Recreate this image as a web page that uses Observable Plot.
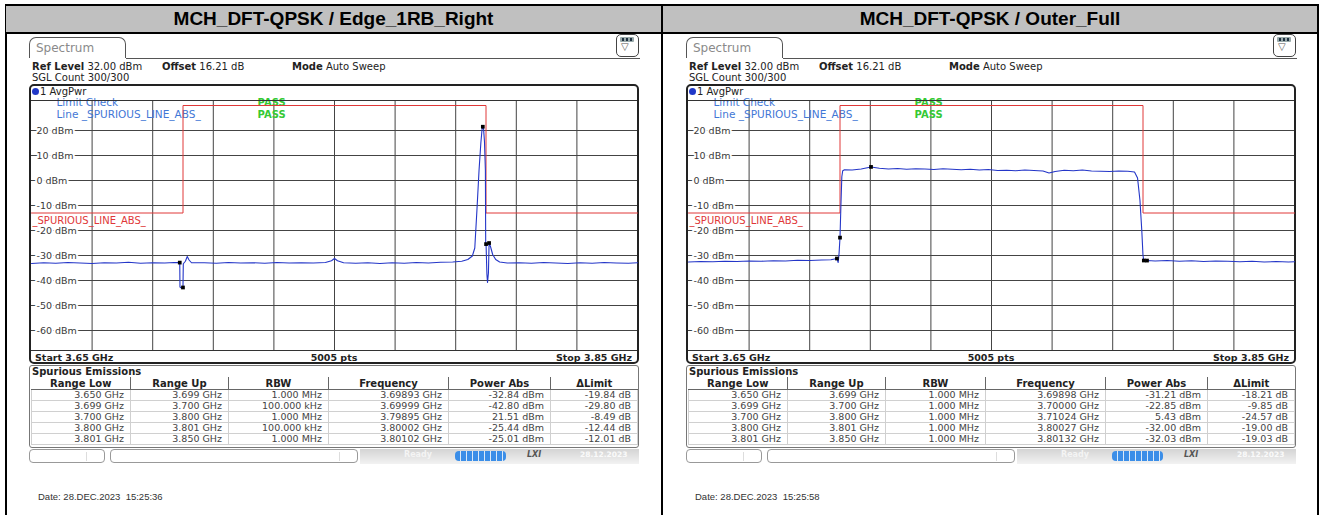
<!DOCTYPE html>
<html><head><meta charset="utf-8">
<script src="https://cdn.jsdelivr.net/npm/d3@7"></script>
<script src="https://cdn.jsdelivr.net/npm/@observablehq/plot@0.6"></script>
<style>
html,body{margin:0;padding:0;background:#fff;}
body{width:1322px;height:515px;overflow:hidden;position:relative;font-family:"DejaVu Sans",sans-serif;}
.abs{position:absolute;}
.outer{position:absolute;left:5px;top:4px;width:1310px;height:520px;border:2px solid #000;}
.divider{position:absolute;left:661px;top:4px;width:2px;height:520px;background:#000;}
.header{position:absolute;top:6px;height:26px;background:#c0c0c0;border-bottom:2px solid #000;
  font-family:"Liberation Sans",Arial,sans-serif;font-weight:bold;font-size:19px;color:#000;
  text-align:center;line-height:26px;}
.tab{position:absolute;top:37px;width:97px;height:21px;border:1px solid #555;border-bottom:none;
  border-radius:7px 7px 0 0;color:#8a8a8a;font-size:12px;line-height:21px;padding-left:6px;box-sizing:border-box;}
.tabline{position:absolute;top:58px;height:0;border-top:1px solid #555;}
.icon{position:absolute;top:34px;width:23px;height:23px;border:1.5px solid #444;border-radius:5px;background:#fff;box-sizing:border-box;}
.info{position:absolute;font-size:10px;color:#222;white-space:pre;}
.info b{font-weight:bold;}
.gbox{position:absolute;top:84px;width:610px;height:280px;border:2px solid #222;border-radius:5px;box-sizing:border-box;}
.avg{position:absolute;font-size:10px;color:#222;white-space:pre;line-height:12px;}
.dot{display:inline-block;width:7px;height:7px;border-radius:50%;background:#2038c8;vertical-align:0px;margin-right:1px;}
.srow{position:absolute;font-size:9.5px;font-weight:bold;color:#222;}
.tbox{position:absolute;top:365px;width:610px;height:83px;border:1.5px solid #777;border-radius:3px;box-sizing:border-box;background:#fff;}
table.sp{position:absolute;border-collapse:collapse;font-size:9.5px;color:#444;}
table.sp th{font-weight:bold;font-size:10px;color:#222;height:12px;padding:0;border-bottom:1px solid #666;border-left:1px solid #666;line-height:11px;}
table.sp th:first-child{border-left:none;}
table.sp td{height:10px;padding:0 6px 0 0;text-align:right;border:1px solid #d0d0d0;line-height:10px;}
.bar{position:absolute;top:449px;height:15px;}
.pill{position:absolute;top:449px;height:14px;border:1px solid #999;border-radius:4px;background:#fff;box-sizing:border-box;}
.date{position:absolute;top:491px;font-family:"Liberation Sans",Arial,sans-serif;font-size:9.5px;color:#333;white-space:pre;}
svg{overflow:visible;}
</style></head>
<body>
<div class="outer"></div>
<div class="divider"></div>
<div id="root"></div>
<script>
// ---------- data ----------
const panelTitles = ["MCH_DFT-QPSK / Edge_1RB_Right", "MCH_DFT-QPSK / Outer_Full"];
const refLevel = "32.00 dBm";
const offsetVal = "16.21 dB";
const modeVal = "Auto Sweep";
const sglCount = "300/300";
const startLabel = "Start 3.65 GHz";
const ptsLabel = "5005 pts";
const stopLabel = "Stop 3.85 GHz";
const dateLabels = ["Date: 28.DEC.2023  15:25:36", "Date: 28.DEC.2023  15:25:58"];

const freqDomain = [3.65, 3.85];
const levelDomain = [-68, 32];
const freqGrid = [3.67, 3.69, 3.71, 3.73, 3.75, 3.77, 3.79, 3.81, 3.83];
const levelTicks = [20, 10, 0, -10, -20, -30, -40, -50, -60];

const limitFreq = [3.65, 3.70, 3.70, 3.80, 3.80, 3.85];
const limitLevel = [-13, -13, 30, 30, -13, -13];
const limitName = "_SPURIOUS_LINE_ABS_";

const tableHeaders = ["Range Low", "Range Up", "RBW", "Frequency", "Power Abs", "\u0394Limit"];
const rangeLow = ["3.650 GHz", "3.699 GHz", "3.700 GHz", "3.800 GHz", "3.801 GHz"];
const rangeUp = ["3.699 GHz", "3.700 GHz", "3.800 GHz", "3.801 GHz", "3.850 GHz"];
const rbwLeft = ["1.000 MHz", "100.000 kHz", "1.000 MHz", "100.000 kHz", "1.000 MHz"];
const rbwRight = ["1.000 MHz", "1.000 MHz", "1.000 MHz", "1.000 MHz", "1.000 MHz"];
const peakFreqLeft = [3.69893, 3.69999, 3.79895, 3.80002, 3.80102];
const peakPowLeft = [-32.84, -42.80, 21.51, -25.44, -25.01];
const deltaLeft = [-19.84, -29.80, -8.49, -12.44, -12.01];
const peakFreqRight = [3.69898, 3.70000, 3.71024, 3.80027, 3.80132];
const peakPowRight = [-31.21, -22.85, 5.43, -32.00, -32.03];
const deltaRight = [-18.21, -9.85, -24.57, -19.00, -19.03];

const traceLeft = [
  [3.6500,-33.2],[3.6540,-32.9],[3.6580,-33.1],[3.6620,-32.8],[3.6660,-33.0],[3.6700,-33.2],
  [3.6740,-32.9],[3.6780,-33.0],[3.6820,-32.7],[3.6860,-33.1],[3.6900,-32.9],[3.6940,-33.0],
  [3.6970,-32.8],[3.69893,-32.84],[3.6990,-42.6],[3.6995,-43.0],[3.69999,-42.80],[3.7001,-33.3],
  [3.7008,-32.3],[3.7014,-30.4],[3.7020,-31.8],[3.7028,-32.9],[3.7070,-32.9],[3.7110,-33.1],
  [3.7150,-32.8],[3.7190,-33.0],[3.7230,-32.9],[3.7270,-33.1],[3.7310,-32.8],[3.7350,-33.0],
  [3.7390,-32.9],[3.7430,-33.0],[3.7470,-32.8],[3.7490,-32.1],[3.7500,-31.2],[3.7510,-32.1],
  [3.7530,-32.9],[3.7570,-33.1],[3.7610,-32.9],[3.7650,-33.2],[3.7690,-32.9],[3.7730,-33.1],
  [3.7770,-32.8],[3.7810,-33.0],[3.7850,-32.7],[3.7890,-32.6],[3.7920,-32.3],[3.7940,-31.6],
  [3.7955,-30.2],[3.7963,-27.0],[3.7970,-12.0],[3.7977,4.0],[3.7983,15.0],[3.7987,20.5],
  [3.79895,21.51],[3.7992,20.6],[3.7995,15.5],[3.7998,4.0],[3.7999,-25.0],[3.80002,-25.44],
  [3.8003,-37.5],[3.8005,-40.8],[3.8008,-37.0],[3.80102,-25.01],[3.8015,-26.5],[3.8022,-29.6],
  [3.8032,-31.6],[3.8045,-32.6],[3.8070,-33.0],[3.8110,-32.9],[3.8150,-33.1],[3.8190,-32.8],
  [3.8230,-33.0],[3.8270,-33.2],[3.8310,-32.9],[3.8350,-33.1],[3.8390,-32.8],[3.8430,-33.0],
  [3.8470,-33.1],[3.8500,-32.9]
];
const traceRight = [
  [3.6500,-32.6],[3.6540,-32.4],[3.6580,-32.5],[3.6620,-32.3],[3.6660,-32.4],[3.6700,-32.2],
  [3.6740,-32.3],[3.6780,-32.1],[3.6820,-32.2],[3.6860,-31.9],[3.6900,-32.0],[3.6940,-31.8],
  [3.6970,-31.7],[3.69898,-31.21],[3.6994,-32.8],[3.6997,-29.0],[3.70000,-22.85],[3.7003,-10.0],
  [3.7006,1.5],[3.7009,3.9],[3.7015,4.3],[3.7040,4.2],[3.7070,4.6],[3.71024,5.43],
  [3.7130,4.9],[3.7160,4.6],[3.7190,4.8],[3.7220,4.5],[3.7250,4.7],[3.7280,4.6],
  [3.7310,4.4],[3.7340,4.7],[3.7370,4.5],[3.7400,4.3],[3.7430,4.5],[3.7460,4.2],
  [3.7490,4.4],[3.7520,4.0],[3.7550,4.1],[3.7580,3.9],[3.7610,4.2],[3.7640,4.0],
  [3.7670,3.8],[3.7690,3.0],[3.7710,3.6],[3.7740,4.1],[3.7770,3.9],[3.7800,4.2],
  [3.7830,3.8],[3.7860,3.7],[3.7890,3.6],[3.7920,3.8],[3.7950,3.7],[3.7972,3.4],
  [3.7982,1.0],[3.7990,-8.0],[3.7996,-20.0],[3.8000,-30.0],[3.80027,-32.00],[3.8008,-32.3],
  [3.80132,-32.03],[3.8040,-32.2],[3.8080,-32.0],[3.8120,-32.3],[3.8160,-32.1],[3.8200,-32.4],
  [3.8240,-32.2],[3.8280,-32.3],[3.8320,-32.5],[3.8360,-32.3],[3.8400,-32.6],[3.8440,-32.4],
  [3.8480,-32.6],[3.8500,-32.5]
];

const panels = [
  {x0: 6, title: panelTitles[0], trace: traceLeft, rbw: rbwLeft, pf: peakFreqLeft, pp: peakPowLeft, dl: deltaLeft, date: dateLabels[0]},
  {x0: 663, title: panelTitles[1], trace: traceRight, rbw: rbwRight, pf: peakFreqRight, pp: peakPowRight, dl: deltaRight, date: dateLabels[1]}
];

// ---------- drawing ----------
const root = document.getElementById("root");
function el(tag, cls, style, html) {
  const e = document.createElement(tag);
  if (cls) e.className = cls;
  if (style) e.setAttribute("style", style);
  if (html !== undefined) e.innerHTML = html;
  root.appendChild(e);
  return e;
}

function makePlot(p) {
  const trace = p.trace.map(([f, l]) => ({f, l}));
  const limit = limitFreq.map((f, i) => ({f, l: limitLevel[i]}));
  const markers = p.pf.map((f, i) => ({f, l: p.pp[i]}));
  return Plot.plot({
    width: 606, height: 250, margin: 0,
    x: {domain: freqDomain, axis: null},
    y: {domain: levelDomain, axis: null},
    style: {background: "transparent", overflow: "visible", fontFamily: "DejaVu Sans"},
    marks: [
      Plot.ruleX(freqGrid, {stroke: "#444", strokeWidth: 1}),
      Plot.ruleY(levelTicks, {stroke: "#444", strokeWidth: 1}),
      Plot.text(levelTicks, {x: freqDomain[0], y: d => d, text: d => `${d} dBm`, textAnchor: "start",
        dx: 5, fill: "#3a3a3a", stroke: "white", strokeWidth: 4, fontSize: 9.5}),
      Plot.text(["Limit Check"], {frameAnchor: "top-left", dx: 25, dy: -2, text: d => d, textAnchor: "start",
        fill: "#4277d6", fontSize: 10.5}),
      Plot.text(["Line _SPURIOUS_LINE_ABS_"], {frameAnchor: "top-left", dx: 25, dy: 10, text: d => d, textAnchor: "start",
        fill: "#4277d6", fontSize: 10.5}),
      Plot.text(["PASS"], {frameAnchor: "top-left", dx: 226, dy: -2, text: d => d, textAnchor: "start",
        fill: "#35c935", fontWeight: "bold", fontSize: 10}),
      Plot.text(["PASS"], {frameAnchor: "top-left", dx: 226, dy: 10, text: d => d, textAnchor: "start",
        fill: "#35c935", fontWeight: "bold", fontSize: 10}),
      Plot.ruleY([levelDomain[1]], {stroke: "#333", strokeWidth: 1}),
      Plot.line(limit, {x: "f", y: "l", stroke: "#e03838", strokeWidth: 1}),
      Plot.text([limit[0]], {x: "f", y: "l", text: () => limitName, textAnchor: "start", dx: 1, dy: 8,
        fill: "#e03838", fontSize: 10}),
      Plot.line(trace, {x: "f", y: "l", stroke: "#2436c8", strokeWidth: 1.1}),
      Plot.dot(markers, {x: "f", y: "l", symbol: "square", r: 2.1, fill: "#000", stroke: "none"})
    ]
  });
}

panels.forEach((p, idx) => {
  const x0 = p.x0;
  const w = idx === 0 ? 655 : 654;
  el("div", "header", `left:${x0}px;width:${w}px;`, p.title);
  // tab and icon
  el("div", "tab", `left:${x0 + 23}px;`, "Spectrum");
  el("div", "tabline", `left:${x0 + 120}px;width:${634 - 120}px;`);
  const ic = el("div", "icon", `left:${x0 + 610}px;`);
  ic.innerHTML = `<div style="position:absolute;left:3px;top:2px;width:14px;height:5px;background:#9aa;border-radius:1px;"></div>
    <div style="position:absolute;left:5px;top:3px;width:2px;height:3px;background:#234;"></div>
    <div style="position:absolute;left:9px;top:3px;width:2px;height:3px;background:#234;"></div>
    <div style="position:absolute;left:13px;top:3px;width:2px;height:3px;background:#234;"></div>
    <div style="position:absolute;left:4px;top:6px;font-size:10px;color:#555;line-height:12px;">\u25BD</div>`;
  // info lines
  el("div", "info", `left:${x0 + 26}px;top:61px;`, `<b>Ref Level</b> ${refLevel}`);
  el("div", "info", `left:${x0 + 156}px;top:61px;`, `<b>Offset</b> ${offsetVal}`);
  el("div", "info", `left:${x0 + 286}px;top:61px;`, `<b>Mode</b> ${modeVal}`);
  el("div", "info", `left:${x0 + 26}px;top:72px;`, `SGL Count ${sglCount}`);
  // graph box
  el("div", "gbox", `left:${x0 + 23}px;`);
  el("div", "avg", `left:${x0 + 26}px;top:86px;`, `<span class="dot"></span>1 AvgPwr`);
  const holder = el("div", "abs", `left:${x0 + 25}px;top:100px;width:606px;height:250px;`);
  holder.appendChild(makePlot(p));
  el("div", "abs", `left:${x0 + 25}px;top:350px;width:606px;height:0;border-top:1px solid #333;`);
  el("div", "srow", `left:${x0 + 29}px;top:352px;`, startLabel);
  el("div", "srow", `left:${x0 + 25}px;top:352px;width:606px;text-align:center;`, ptsLabel);
  el("div", "srow", `left:${x0 + 25}px;top:352px;width:601px;text-align:right;`, stopLabel);
  // spurious table
  el("div", "tbox", `left:${x0 + 23}px;`);
  el("div", "srow", `left:${x0 + 26}px;top:366px;font-size:10px;`, "Spurious Emissions");
  const widths = [99, 98, 100, 120, 102, 87];
  let html = "<colgroup>" + widths.map(wd => `<col style="width:${wd}px">`).join("") + "</colgroup>";
  html += "<tr>" + tableHeaders.map(h => `<th>${h}</th>`).join("") + "</tr>";
  for (let i = 0; i < rangeLow.length; i++) {
    html += `<tr><td>${rangeLow[i]}</td><td>${rangeUp[i]}</td><td>${p.rbw[i]}</td>` +
      `<td>${p.pf[i].toFixed(5)} GHz</td><td>${p.pp[i].toFixed(2)} dBm</td><td>${p.dl[i].toFixed(2)} dB</td></tr>`;
  }
  el("table", "sp", `left:${x0 + 25}px;top:377px;width:606px;table-layout:fixed;`, html);
  // status bar
  el("div", "pill", `left:${x0 + 23}px;width:76px;`,
    `<div style="position:absolute;left:56px;top:2px;width:1px;height:9px;background:#ddd;"></div>`);
  el("div", "pill", `left:${x0 + 104}px;width:248px;`,
    `<div style="position:absolute;left:228px;top:2px;width:1px;height:9px;background:#ddd;"></div>`);
  el("div", "bar", `left:${x0 + 354}px;width:279px;background:linear-gradient(#d4d4d4,#f2f2f2);`);
  el("div", "abs", `left:${x0 + 398}px;top:450px;font-size:8px;font-weight:bold;color:#f4f4f4;`, "Ready");
  el("div", "abs", `left:${x0 + 449}px;top:451px;width:51px;height:10px;border-radius:4px;background:repeating-linear-gradient(90deg,#3b8ee8 0 5px,#dbeaf9 5px 6px);`);
  el("div", "abs", `left:${x0 + 521}px;top:450px;font-size:8px;font-weight:bold;font-style:italic;color:#555;`, "LXI");
  el("div", "abs", `left:${x0 + 574}px;top:450px;font-size:7.5px;font-weight:bold;color:#fafafa;`, "28.12.2023");
  // date
  el("div", "date", `left:${x0 + 32}px;`, p.date);
});
</script>
</body></html>
